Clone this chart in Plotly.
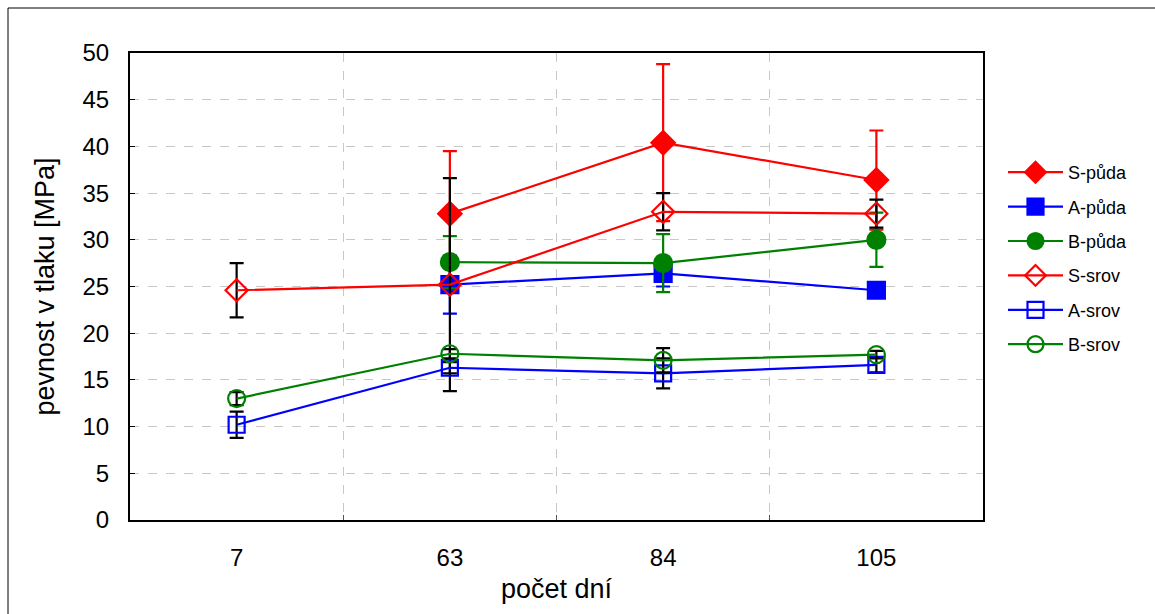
import plotly.graph_objects as go

categories = ["7", "63", "84", "105"]

s_puda = [None, 32.8, 40.4, 36.4]
s_puda_err = [None, 6.7, 8.4, 5.3]
a_puda = [None, 25.2, 26.4, 24.6]
a_puda_err = [None, 3.1, 1.4, 0.3]
b_puda = [None, 27.6, 27.5, 30.0]
b_puda_err = [None, 2.8, 3.1, 2.9]
s_srov = [24.6, 25.2, 33.0, 32.8]
s_srov_err = [2.9, 11.4, 2.0, 1.5]
a_srov = [10.2, 16.3, 15.7, 16.6]
a_srov_err = [1.4, 0.6, 1.6, 0.8]
b_srov = [13.0, 17.8, 17.1, 17.7]
b_srov_err = [0.7, 0.5, 1.3, 0.4]

series = [
    ("S-půda", s_puda, s_puda_err, "red", "diamond", 18, "red"),
    ("A-půda", a_puda, a_puda_err, "blue", "square", 17, "blue"),
    ("B-půda", b_puda, b_puda_err, "green", "circle", 18, "green"),
    ("S-srov", s_srov, s_srov_err, "red", "diamond-open", 17, "black"),
    ("A-srov", a_srov, a_srov_err, "blue", "square-open", 16, "black"),
    ("B-srov", b_srov, b_srov_err, "green", "circle-open", 17, "black"),
]

fig = go.Figure()
for i, (name, ys, errs, color, sym, size, ecolor) in enumerate(series):
    fig.add_trace(go.Scatter(
        x=categories, y=ys, name=name, mode="lines+markers",
        legendgroup=f"g{i}",
        line=dict(color=color, width=2.2),
        marker=dict(symbol=sym, size=size, color=color,
                    line=dict(color=color, width=2.2)),
        error_y=dict(type="data", array=errs, visible=True,
                     color=ecolor, thickness=2.2, width=7),
        connectgaps=False,
    ))

# outer chart border
fig.add_shape(type="rect", xref="paper", yref="paper",
              x0=(8 - 130) / 853, x1=(1170 - 130) / 853,
              y0=(520 - 630) / 467, y1=(520 - 8) / 467,
              line=dict(color="black", width=1), layer="below")

fig.update_layout(
    width=1155, height=614,
    margin=dict(l=130, r=172, t=53, b=94),
    paper_bgcolor="white", plot_bgcolor="white",
    font=dict(family="Liberation Sans, Arial, sans-serif", color="black"),
    xaxis=dict(
        type="category", range=[-0.5, 3.5], tickson="boundaries",
        showgrid=True, gridcolor="#c8c8c8", griddash="dash", gridwidth=1,
        ticks="inside", ticklen=5, tickcolor="#555",
        showline=True, linecolor="black", linewidth=2, mirror=True,
        tickfont=dict(size=24), ticklabelstandoff=15,
        title=dict(text="počet dní", font=dict(size=27), standoff=9),
        zeroline=False,
    ),
    yaxis=dict(
        range=[0, 50], dtick=5, tick0=0,
        showgrid=True, gridcolor="#c8c8c8", griddash="dash", gridwidth=1,
        ticks="inside", ticklen=5, tickcolor="black",
        showline=True, linecolor="black", linewidth=2, mirror=True,
        tickfont=dict(size=24), ticklabelstandoff=14,
        title=dict(text="pevnost v tlaku [MPa]", font=dict(size=27), standoff=20),
        zeroline=False,
    ),
    legend=dict(
        x=(1003 - 130) / 853, xanchor="left", y=(520 - 154) / 467, yanchor="top",
        font=dict(size=18), itemwidth=55, tracegroupgap=8,
        bgcolor="rgba(0,0,0,0)", traceorder="grouped",
    ),
    showlegend=True,
)

fig.write_html("out.html")
